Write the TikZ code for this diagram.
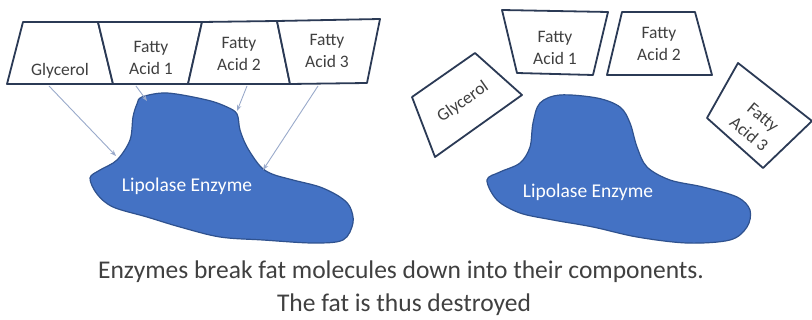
\documentclass[tikz,border=0pt]{standalone}
\usepackage{fontspec}
\setmainfont{Carlito}
\usetikzlibrary{arrows.meta}
\definecolor{blobfill}{HTML}{4472C4}
\definecolor{blobline}{HTML}{2F528F}
\definecolor{boxline}{HTML}{2B3A55}
\definecolor{arrowc}{HTML}{9AAACB}
\definecolor{txt}{HTML}{404040}
\begin{document}
\begin{tikzpicture}[x=1pt,y=-1pt,
  boxshape/.style={draw=boxline,line width=1.8pt,line join=round,fill=white},
  boxtext/.style={text=txt,font=\fontsize{17.5}{22}\selectfont,align=center,inner sep=0pt},
  blob/.style={fill=blobfill,draw=blobline,line width=1.2pt},
  blobtext/.style={text=white,font=\fontsize{19.5}{22}\selectfont,inner sep=0pt},
  link/.style={draw=arrowc,line width=0.9pt,-{Stealth[length=6pt,width=4.5pt]}},
  captionstyle/.style={text=txt,font=\fontsize{25.5}{30}\selectfont,inner sep=0pt,anchor=base}]
\useasboundingbox[fill=white] (0,0) rectangle (812,320);

% ---------- left panel ----------
\draw[blob] plot[smooth cycle,tension=0.55] coordinates {
 (142,97) (167,93) (207,100) (227,107) (237,114) (240,130) (247,147) (260,166)
 (272,174) (293,180) (320,187) (340,197) (350,207) (353,223) (343,240) (313,243)
 (263,240) (220,237) (180,227) (147,217) (113,207) (97,194) (90,178) (100,170)
 (117,160) (130,140) (133,117) (137,104)};
\node[blobtext] (enzL) at (187,186) {Lipolase Enzyme};

\draw[boxshape] (23,22) -- (98,22) -- (113,84) -- (7,84) -- cycle;
\draw[boxshape] (98,22) -- (202,22) -- (188,84) -- (113,84) -- cycle;
\draw[boxshape] (202,22) -- (277,21) -- (290,84) -- (188,84) -- cycle;
\draw[boxshape] (277,21) -- (380,19) -- (367,83) -- (290,84) -- cycle;
\node[boxtext] (glyL) at (60,71) {Glycerol};
\node[boxtext] (fa1L) at (151,58) {Fatty\\Acid 1};
\node[boxtext] (fa2L) at (239,54) {Fatty\\Acid 2};
\node[boxtext] (fa3L) at (327,51) {Fatty\\Acid 3};

\coordinate (gS) at (49,86);   \coordinate (gE) at (116,156);
\coordinate (f1S) at (136,86); \coordinate (f1E) at (147,101);
\coordinate (f2S) at (247,86); \coordinate (f2E) at (237,111);
\coordinate (f3S) at (318,86); \coordinate (f3E) at (263,170);
\draw[link] (gS) -- (gE);
\draw[link] (f1S) -- (f1E);
\draw[link] (f2S) -- (f2E);
\draw[link] (f3S) -- (f3E);

% ---------- right panel ----------
\draw[blob] plot[smooth cycle,tension=0.55] coordinates {
 (540,103) (560,95) (597,98) (620,107) (630,123) (637,147) (647,167) (670,180)
 (703,187) (737,197) (750,210) (747,227) (730,240) (687,243) (637,237) (593,227)
 (553,220) (520,213) (497,200) (487,180) (500,172) (520,163) (530,147) (533,123)};
\node[blobtext] (enzR) at (588,192) {Lipolase Enzyme};

\draw[boxshape] (412,97) -- (475,53) -- (522,95) -- (435,157) -- cycle;
\draw[boxshape] (502,10) -- (608,12) -- (593,75) -- (517,73) -- cycle;
\draw[boxshape] (622,12) -- (695,12) -- (712,75) -- (607,75) -- cycle;
\draw[boxshape] (738,63) -- (812,121) -- (763,168) -- (707,118) -- cycle;
\node[boxtext,rotate=35] (glyR) at (463,102) {Glycerol};
\node[boxtext] (fa1R) at (555,48) {Fatty\\Acid 1};
\node[boxtext] (fa2R) at (659,44) {Fatty\\Acid 2};
\node[boxtext,rotate=-40] (fa3R) at (756,126) {Fatty\\Acid 3};

% ---------- caption ----------
\node[captionstyle] (cap1) at (401,279) {Enzymes break fat molecules down into their components.};
\node[captionstyle] (cap2) at (404,312) {The fat is thus destroyed};
\end{tikzpicture}
\end{document}
